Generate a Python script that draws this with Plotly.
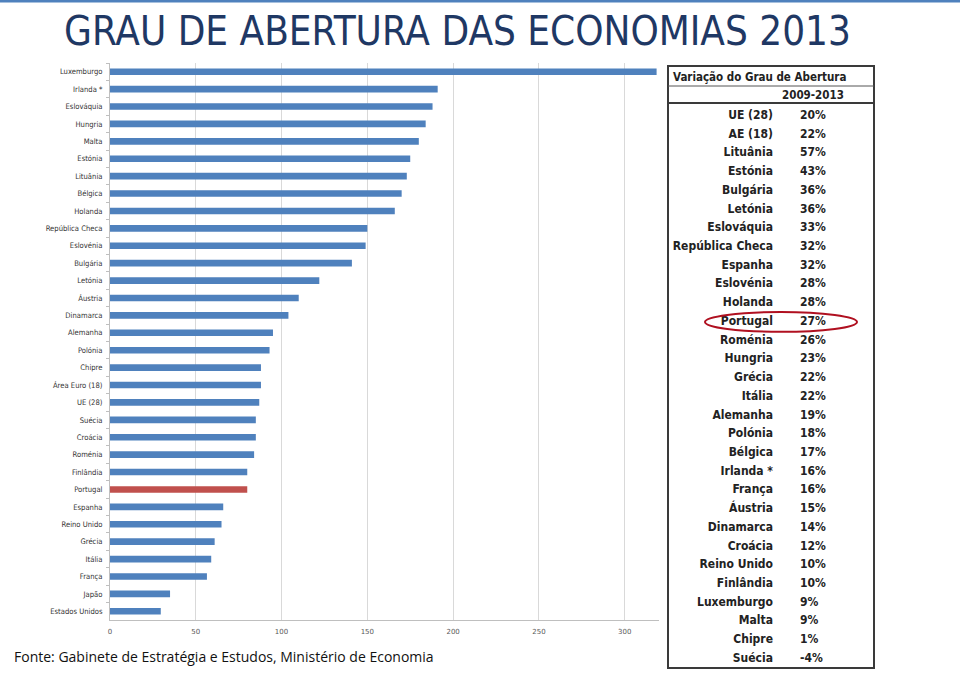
import plotly.graph_objects as go

# ---------------- data ----------------
countries = ["Luxemburgo", "Irlanda *", "Eslováquia", "Hungria", "Malta", "Estónia", "Lituânia",
             "Bélgica", "Holanda", "República Checa", "Eslovénia", "Bulgária", "Letónia", "Áustria",
             "Dinamarca", "Alemanha", "Polónia", "Chipre", "Área Euro (18)", "UE (28)", "Suécia",
             "Croácia", "Roménia", "Finlândia", "Portugal", "Espanha", "Reino Unido", "Grécia",
             "Itália", "França", "Japão", "Estados Unidos"]
openness = [318.6, 191, 188, 184, 180, 175, 173, 170, 166, 150, 149, 141, 122, 110,
            104, 95, 93, 88, 88, 87, 85, 85, 84, 80, 80, 66, 65, 61, 59, 56.5, 35, 29.6]

table_names = ["UE (28)", "AE (18)", "Lituânia", "Estónia", "Bulgária", "Letónia", "Eslováquia",
               "República Checa", "Espanha", "Eslovénia", "Holanda", "Portugal", "Roménia", "Hungria",
               "Grécia", "Itália", "Alemanha", "Polónia", "Bélgica", "Irlanda *", "França", "Áustria",
               "Dinamarca", "Croácia", "Reino Unido", "Finlândia", "Luxemburgo", "Malta", "Chipre", "Suécia"]
table_values = [20, 22, 57, 43, 36, 36, 33, 32, 32, 28, 28, 27, 26, 23, 22, 22, 19, 18, 17, 16,
                16, 15, 14, 12, 10, 10, 9, 9, 1, -4]
x_ticks = [0, 50, 100, 150, 200, 250, 300]

highlight = "Portugal"
W, H = 960, 676

bar_colors = ["#c0504d" if c == highlight else "#4f81bd" for c in countries]

fig = go.Figure()
fig.add_trace(go.Bar(
    x=openness, y=countries, orientation="h",
    marker=dict(color=bar_colors, line=dict(width=0)),
    xaxis="x", yaxis="y", hoverinfo="x+y",
))

TF = "DejaVu Sans Condensed, sans-serif"
rows = list(range(len(table_names)))
fig.add_trace(go.Scatter(
    x=[773] * len(rows), y=rows, mode="text", text=table_names,
    textposition="middle left",
    textfont=dict(family=TF, size=12, color="#222222"),
    xaxis="x2", yaxis="y2", cliponaxis=False, hoverinfo="skip", texttemplate="<b>%{text}</b>",
))
fig.add_trace(go.Scatter(
    x=[800] * len(rows), y=rows, mode="text", text=[f"{v}%" for v in table_values],
    textposition="middle right",
    textfont=dict(family=TF, size=12, color="#222222"),
    xaxis="x2", yaxis="y2", cliponaxis=False, hoverinfo="skip", texttemplate="<b>%{text}</b>",
))

px = lambda v: v / W
py = lambda v: 1 - v / H

fig.update_layout(
    width=W, height=H, margin=dict(l=0, r=0, t=0, b=0),
    paper_bgcolor="white", plot_bgcolor="white", showlegend=False,
    bargap=0.62,
    xaxis=dict(domain=[px(110), px(659)], range=[0, 320], tickvals=x_ticks,
               showgrid=True, gridcolor="#d9d9d9", gridwidth=1, zeroline=False,
               showline=True, linecolor="#bfbfbf", ticks="", automargin=False,
               tickfont=dict(family="DejaVu Sans, sans-serif", size=7, color="#595959"),
               ticklabelstandoff=5, anchor="y", fixedrange=True),
    yaxis=dict(domain=[py(620), py(63)], autorange="reversed", type="category",
               showline=True, linecolor="#bfbfbf", ticks="outside", ticklen=3,
               tickcolor="#bfbfbf", tickson="boundaries", showgrid=False, automargin=False,
               tickfont=dict(family=TF, size=7.6, color="#333333"),
               anchor="x", ticklabelstandoff=5, fixedrange=True),
    xaxis2=dict(domain=[px(668), px(874)], range=[668, 874], visible=False, anchor="y2",
                fixedrange=True),
    yaxis2=dict(domain=[py(668), py(66)], range=[(668 - 116) / 18.72, (66 - 116) / 18.72],
                visible=False, anchor="x2", fixedrange=True),
)

shapes = [
    dict(type="rect", xref="paper", yref="paper", x0=0, x1=1, y0=py(2.5), y1=1,
         fillcolor="#4f81bd", line=dict(width=0)),
    dict(type="rect", xref="x2 domain", yref="y2 domain", x0=0, x1=1, y0=0, y1=1,
         line=dict(color="#3a3a3a", width=2)),
    dict(type="line", xref="x2 domain", yref="y2", x0=0, x1=1,
         y0=(86 - 116) / 18.72, y1=(86 - 116) / 18.72, line=dict(color="#555555", width=1)),
    dict(type="line", xref="x2 domain", yref="y2", x0=0, x1=1,
         y0=(103 - 116) / 18.72, y1=(103 - 116) / 18.72, line=dict(color="#3a3a3a", width=2)),
]
pi = table_names.index(highlight)
shapes.append(dict(type="circle", xref="x2", yref="y2", x0=705, x1=857, y0=pi - 0.53, y1=pi + 0.53,
                   line=dict(color="#b01020", width=2)))
fig.update_layout(shapes=shapes)

ann = [
    dict(text="GRAU DE ABERTURA DAS ECONOMIAS 2013", xref="paper", yref="paper",
         x=px(457), y=py(31), xanchor="center", yanchor="middle", showarrow=False,
         font=dict(family="Liberation Sans Narrow, DejaVu Sans Condensed, sans-serif", size=40,
                   color="#1f3864")),
    dict(text="Fonte: Gabinete de Estratégia e Estudos, Ministério de Economia", xref="paper",
         yref="paper", x=px(12), y=py(656), xanchor="left", yanchor="middle", showarrow=False,
         font=dict(family="Open Sans, sans-serif", size=14, color="#111111")),
    dict(text="<b>Variação do Grau de Abertura</b>", xref="x2", yref="y2", x=671,
         y=(77 - 116) / 18.72, xanchor="left", yanchor="middle", showarrow=False,
         font=dict(family=TF, size=11.5, color="#222222")),
    dict(text="<b>2009-2013</b>", xref="x2", yref="y2", x=846,
         y=(95 - 116) / 18.72, xanchor="right", yanchor="middle", showarrow=False,
         font=dict(family=TF, size=11.5, color="#222222")),
]
fig.update_layout(annotations=ann)

fig.write_html("out.html")
